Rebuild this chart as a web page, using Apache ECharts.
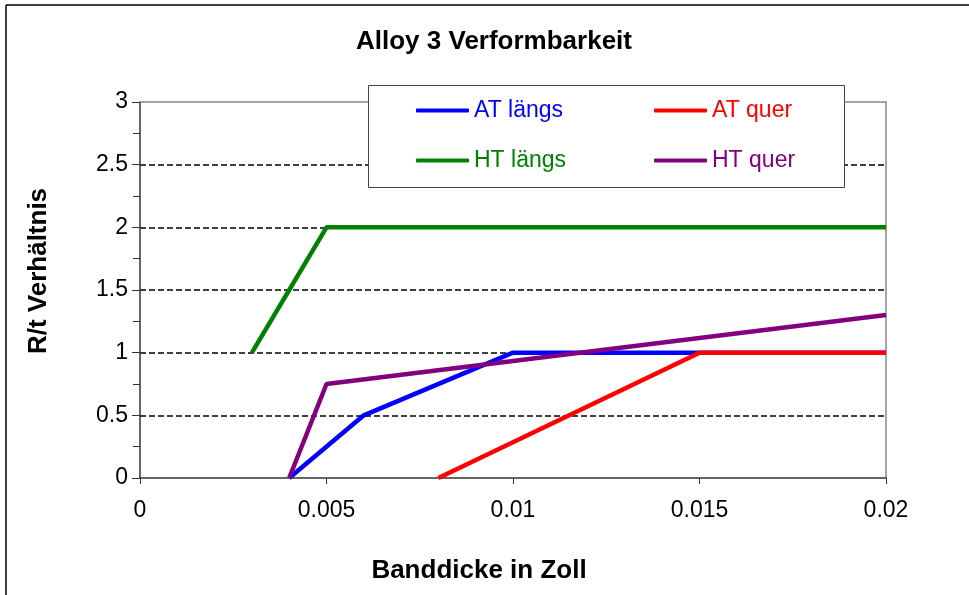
<!DOCTYPE html>
<html>
<head>
<meta charset="utf-8">
<script src="https://cdn.jsdelivr.net/npm/echarts@6/dist/echarts.min.js"></script>
<style>
  html, body { margin: 0; padding: 0; background: #fff; }
  #chart { width: 969px; height: 595px; }
</style>
</head>
<body>
<div id="chart"></div>
<script>
// Strip thickness (inch) vs. bend radius ratio R/t
const seriesNames = ['AT längs', 'AT quer', 'HT längs', 'HT quer'];
const seriesColors = ['#0000FF', '#FF0000', '#008000', '#800080'];

const atLaengsX = [0.004, 0.006, 0.010, 0.020];
const atLaengsY = [0, 0.5, 1, 1];

const atQuerX = [0.008, 0.015, 0.020];
const atQuerY = [0, 1, 1];

const htLaengsX = [0.003, 0.005, 0.020];
const htLaengsY = [1, 2, 2];

const htQuerX = [0.004, 0.005, 0.020];
const htQuerY = [0, 0.75, 1.3];

const xTickLabels = ['0', '0.005', '0.01', '0.015', '0.02'];
const yTickLabels = ['0', '0.5', '1', '1.5', '2', '2.5', '3'];

const seriesX = [atLaengsX, atQuerX, htLaengsX, htQuerX];
const seriesY = [atLaengsY, atQuerY, htLaengsY, htQuerY];

const font = 'Liberation Sans, Arial, sans-serif';

function pairs(xs, ys) {
  return xs.map((x, i) => [x, ys[i]]);
}

const chart = echarts.init(document.getElementById('chart'), null, { renderer: 'canvas' });

// legend laid out as a 2x2 block: column left edges and row tops
const legendCols = [416, 654];
const legendRows = [99, 149];

function legendFor(i) {
  return {
    orient: 'horizontal',
    icon: 'roundRect',
    itemWidth: 53,
    itemHeight: 4,
    padding: 0,
    selectedMode: false,
    z: 30,
    left: legendCols[i % 2],
    top: legendRows[Math.floor(i / 2)],
    textStyle: { fontFamily: font, fontSize: 23 },
    data: [{ name: seriesNames[i], textStyle: { color: seriesColors[i] } }]
  };
}

const option = {
  backgroundColor: '#fff',
  animation: false,
  title: {
    text: 'Alloy 3 Verformbarkeit',
    left: 489,
    textAlign: 'center',
    top: 24,
    textStyle: { fontFamily: font, fontSize: 26, fontWeight: 'bold', color: '#000' }
  },
  legend: seriesNames.map((n, i) => legendFor(i)),
  grid: {
    left: 140,
    right: 83,
    top: 102,
    bottom: 117,
    show: false
  },
  xAxis: [
    {
      type: 'value',
      min: 0,
      max: 0.02,
      interval: 0.005,
      name: 'Banddicke in Zoll',
      nameLocation: 'middle',
      nameGap: 80,
      nameTextStyle: {
        fontFamily: font, fontSize: 26, fontWeight: 'bold', color: '#000',
        padding: [0, 68, 0, 0]
      },
      axisLine: { show: true, onZero: false, lineStyle: { color: '#333', width: 1.5 } },
      axisTick: { show: true, length: 6, lineStyle: { color: '#333' } },
      axisLabel: {
        margin: 21,
        fontFamily: font,
        fontSize: 23,
        color: '#000',
        formatter: (v) => xTickLabels[Math.round(v / 0.005)]
      },
      splitLine: { show: false }
    },
    {
      type: 'value',
      position: 'top',
      min: 0,
      max: 0.02,
      axisLine: { show: true, onZero: false, lineStyle: { color: '#888', width: 1.5 } },
      axisTick: { show: false },
      axisLabel: { show: false },
      splitLine: { show: false }
    }
  ],
  yAxis: [
    {
      type: 'value',
      min: 0,
      max: 3,
      interval: 0.5,
      name: 'R/t Verhältnis',
      nameLocation: 'middle',
      nameGap: 88,
      nameTextStyle: {
        fontFamily: font, fontSize: 26, fontWeight: 'bold', color: '#000',
        padding: [0, 0, 0, 38]
      },
      axisLine: { show: true, onZero: false, lineStyle: { color: '#333', width: 1.5 } },
      axisTick: { show: true, length: 8, lineStyle: { color: '#333' } },
      minorTick: { show: true, splitNumber: 2, length: 7, lineStyle: { color: '#333' } },
      axisLabel: {
        margin: 12,
        fontFamily: font,
        fontSize: 23,
        color: '#000',
        formatter: (v) => yTickLabels[Math.round(v / 0.5)]
      },
      splitLine: {
        show: true,
        showMinLine: false,
        showMaxLine: false,
        lineStyle: { color: '#000', width: 1.5, type: [6, 3] }
      }
    },
    {
      type: 'value',
      position: 'right',
      min: 0,
      max: 3,
      axisLine: { show: true, onZero: false, lineStyle: { color: '#888', width: 1.5 } },
      axisTick: { show: false },
      axisLabel: { show: false },
      splitLine: { show: false }
    }
  ],
  graphic: [
    {
      type: 'line',
      shape: { x1: 6, y1: 5, x2: 969, y2: 5 },
      style: { stroke: '#000', lineWidth: 1.5 }
    },
    {
      type: 'line',
      shape: { x1: 6, y1: 5, x2: 6, y2: 595 },
      style: { stroke: '#000', lineWidth: 1.5 }
    },
    {
      // legend frame
      type: 'rect',
      z: 20,
      shape: { x: 368.5, y: 85.5, width: 476, height: 102 },
      style: { fill: '#fff', stroke: '#444', lineWidth: 1 }
    }
  ],
  series: seriesNames.map((name, i) => ({
    name: name,
    type: 'line',
    data: pairs(seriesX[i], seriesY[i]),
    showSymbol: false,
    symbol: 'none',
    color: seriesColors[i],
    lineStyle: { color: seriesColors[i], width: 4.5 },
    z: 2 + i
  }))
};

chart.setOption(option);
</script>
</body>
</html>
